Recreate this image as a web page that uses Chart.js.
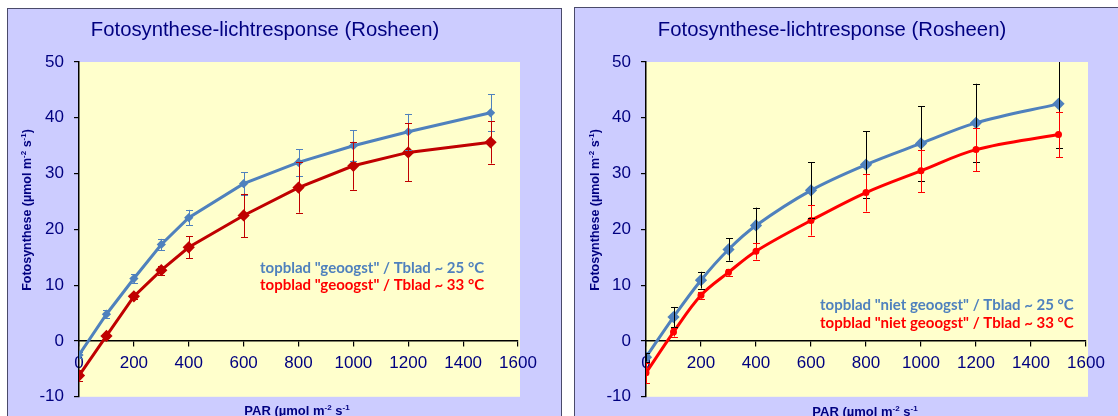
<!DOCTYPE html>
<html lang="nl">
<head>
<meta charset="UTF-8">
<title>Fotosynthese-lichtresponse (Rosheen)</title>
<script src="https://cdn.jsdelivr.net/npm/chart.js"></script>
<style>
    body { margin: 0; width: 1118px; height: 416px; overflow: hidden; background: #fff; position: relative; }
    .paneel { position: absolute; background: #CCCCFF; border: 1px solid #4a4a6a; overflow: hidden; }
    #links { left: 7px; top: 8px; width: 553px; height: 420px; }
    #rechts { left: 574px; top: 7px; width: 560px; height: 420px; }
    canvas { display: block; }
</style>
</head>
<body>
<div class="paneel" id="links"><canvas id="grafiek1" width="553" height="408"></canvas></div>
<div class="paneel" id="rechts"><canvas id="grafiek2" width="543" height="409"></canvas></div>

<script>
// PAR-niveaus (x)
const parWaarden = [0, 100, 200, 300, 400, 600, 800, 1000, 1200, 1500];

// links: topblad "geoogst"
const geoogst25 = [-2.5, 4.8, 11.2, 17.3, 22.1, 28.2, 32.0, 35.0, 37.5, 40.9];
const geoogst25Fout = [0.5, 0.7, 0.8, 1.0, 1.4, 2.0, 2.4, 2.8, 3.2, 3.3];
const geoogst33 = [-6.2, 0.9, 8.0, 12.7, 16.8, 22.5, 27.5, 31.4, 33.8, 35.6];
const geoogst33Fout = [1.0, 0.4, 0.5, 0.8, 2.0, 3.9, 4.5, 4.3, 5.2, 3.8];

// rechts: topblad "niet geoogst"
const nietGeoogst25 = [-2.9, 4.3, 10.9, 16.4, 20.7, 27.0, 31.6, 35.4, 39.1, 42.5];
const nietGeoogst25Fout = [0.8, 1.8, 1.5, 2.0, 3.2, 5.0, 6.0, 6.7, 7.0, 8.0];
const nietGeoogst33 = [-5.7, 1.6, 8.2, 12.3, 16.1, 21.6, 26.6, 30.5, 34.3, 37.0];
const nietGeoogst33Fout = [1.8, 0.8, 0.6, 0.6, 1.5, 2.7, 3.4, 3.8, 3.9, 4.1];

// astikken
const xTicks = [0, 200, 400, 600, 800, 1000, 1200, 1400, 1600];
const yTicks = [-10, 0, 10, 20, 30, 40, 50];

const titel = 'Fotosynthese-lichtresponse (Rosheen)';
const yTitel = [['Fotosynthese (\u00b5mol m', 0], ['-2', 1], [' s', 0], ['-1', 1], [')', 0]];
const xTitel = [['PAR (\u00b5mol m', 0], ['-2', 1], [' s', 0], ['-1', 1]];

const navy = '#000080';
const arial = '"Liberation Sans", Arial, sans-serif';

// tekst met superscript stukjes tekenen
function tekenTekst(ctx, delen, x, y, grootte, gewicht, kleur) {
    const normaal = gewicht + ' ' + grootte + 'px ' + arial;
    const klein = gewicht + ' ' + Math.round(grootte * 0.65) + 'px ' + arial;
    let breedte = 0;
    delen.forEach(d => { ctx.font = d[1] ? klein : normaal; breedte += ctx.measureText(d[0]).width; });
    let pos = x - breedte / 2;
    const basis = y + grootte * 0.36;
    ctx.fillStyle = kleur;
    ctx.textAlign = 'left';
    ctx.textBaseline = 'alphabetic';
    delen.forEach(d => {
        ctx.font = d[1] ? klein : normaal;
        ctx.fillText(d[0], pos, d[1] ? basis - grootte * 0.38 : basis);
        pos += ctx.measureText(d[0]).width;
    });
}

// achtergrond plotgebied, foutbalken en teksten
const opmaakPlugin = {
    id: 'opmaak',
    beforeDraw(chart) {
        const a = chart.chartArea, ctx = chart.ctx;
        ctx.save();
        ctx.fillStyle = '#FFFFCC';
        ctx.fillRect(a.left, a.top, a.right - a.left + 2, a.bottom - a.top);
        ctx.restore();
    },
    afterDatasetsDraw(chart) {
        const a = chart.chartArea, ctx = chart.ctx;
        const xs = chart.scales.x, ys = chart.scales.y;
        ctx.save();
        ctx.beginPath();
        ctx.rect(a.left, a.top, a.right - a.left, a.bottom - a.top);
        ctx.clip();
        chart.data.datasets.forEach(ds => {
            ctx.strokeStyle = ds.foutKleur;
            ctx.lineWidth = 1;
            ds.data.forEach((p, i) => {
                const f = ds.fout[i];
                const px = Math.round(xs.getPixelForValue(p.x)) + 0.5;
                const boven = ys.getPixelForValue(p.y + f);
                const onder = ys.getPixelForValue(p.y - f);
                ctx.beginPath();
                ctx.moveTo(px, boven); ctx.lineTo(px, onder);
                ctx.moveTo(px - 3.5, Math.round(boven) + 0.5); ctx.lineTo(px + 3.5, Math.round(boven) + 0.5);
                ctx.moveTo(px - 3.5, Math.round(onder) + 0.5); ctx.lineTo(px + 3.5, Math.round(onder) + 0.5);
                ctx.stroke();
            });
        });
        ctx.restore();
    },
    afterDraw(chart) {
        const o = chart.options.plugins.opmaak, ctx = chart.ctx;
        ctx.save();
        tekenTekst(ctx, [[titel, 0]], o.titelX, o.titelY, 20.3, 'normal', navy);
        tekenTekst(ctx, xTitel, o.xTitelX, o.xTitelY, 13, 'bold', navy);
        ctx.translate(o.yTitelX, o.yTitelY);
        ctx.rotate(-Math.PI / 2);
        tekenTekst(ctx, yTitel, 0, 0, 12.5, 'bold', navy);
        ctx.restore();

        ctx.save();
        ctx.font = 'bold 15px Lato, "Open Sans", sans-serif';
        ctx.textAlign = 'left';
        ctx.textBaseline = 'middle';
        o.legenda.forEach(l => {
            ctx.fillStyle = l.kleur;
            ctx.fillText(l.tekst, o.legendaX, l.y);
        });
        ctx.restore();
    }
};

function maakGrafiek(id, datasets, padding, extra) {
    return new Chart(document.getElementById(id), {
        type: 'line',
        data: { datasets: datasets },
        options: {
            responsive: false,
            animation: false,
            layout: { padding: padding },
            plugins: { legend: { display: false }, tooltip: { enabled: false }, opmaak: extra },
            scales: {
                x: {
                    type: 'linear',
                    position: { y: 0 },
                    min: 0, max: 1600,
                    afterBuildTicks: s => { s.ticks = xTicks.map(v => ({ value: v })); },
                    afterFit: s => { s.height = 0; },
                    grid: { drawOnChartArea: false, tickLength: 5, color: '#000', lineWidth: 1.2 },
                    border: { color: '#000', width: 1.5 },
                    ticks: { color: navy, padding: 7, maxRotation: 0, font: { family: arial, size: 17 }, callback: v => String(v) }
                },
                y: {
                    position: 'left',
                    min: -10, max: 50,
                    afterBuildTicks: s => { s.ticks = yTicks.map(v => ({ value: v })); },
                    afterFit: s => { s.width = 71; },
                    grid: { drawOnChartArea: false, tickLength: 5, color: '#000', lineWidth: 1.2 },
                    border: { color: '#000', width: 1.5 },
                    ticks: { color: navy, padding: 10, font: { family: arial, size: 17 }, callback: v => String(v) }
                }
            }
        },
        plugins: [opmaakPlugin]
    });
}

function punten(ys) { return parWaarden.map((x, i) => ({ x: x, y: ys[i] })); }

maakGrafiek('grafiek1', [
    {
        data: punten(geoogst25), fout: geoogst25Fout, foutKleur: '#4F81BD',
        borderColor: '#4F81BD', backgroundColor: '#4F81BD', borderWidth: 3,
        pointStyle: 'rectRot', pointRadius: 2.5, tension: 0
    },
    {
        data: punten(geoogst33), fout: geoogst33Fout, foutKleur: '#C00000',
        borderColor: '#C00000', backgroundColor: '#C00000', borderWidth: 3,
        pointStyle: 'rectRot', pointRadius: 4, tension: 0
    }
], { left: 0, top: 53, right: 43, bottom: 19 }, {
    titelX: 257, titelY: 20, xTitelX: 289, xTitelY: 401, yTitelX: 18, yTitelY: 201,
    legendaX: 252,
    legenda: [
        { tekst: 'topblad "geoogst" / Tblad ~ 25 \u00b0C', kleur: '#4F81BD', y: 259 },
        { tekst: 'topblad "geoogst" / Tblad ~ 33 \u00b0C', kleur: '#FF0000', y: 276 }
    ]
});

maakGrafiek('grafiek2', [
    {
        data: punten(nietGeoogst25), fout: nietGeoogst25Fout, foutKleur: '#000000',
        borderColor: '#4F81BD', backgroundColor: '#4F81BD', borderWidth: 3,
        pointStyle: 'rectRot', pointRadius: 4, tension: 0.35
    },
    {
        data: punten(nietGeoogst33), fout: nietGeoogst33Fout, foutKleur: '#FF0000',
        borderColor: '#FF0000', backgroundColor: '#FF0000', borderWidth: 3,
        pointStyle: 'circle', pointRadius: 2, tension: 0.35
    }
], { left: 0, top: 54, right: 32, bottom: 19 }, {
    titelX: 257, titelY: 21, xTitelX: 290, xTitelY: 403, yTitelX: 19, yTitelY: 202,
    legendaX: 245,
    legenda: [
        { tekst: 'topblad "niet geoogst" / Tblad ~ 25 \u00b0C', kleur: '#4F81BD', y: 297 },
        { tekst: 'topblad "niet geoogst" / Tblad ~ 33 \u00b0C', kleur: '#FF0000', y: 315 }
    ]
});
</script>
</body>
</html>
